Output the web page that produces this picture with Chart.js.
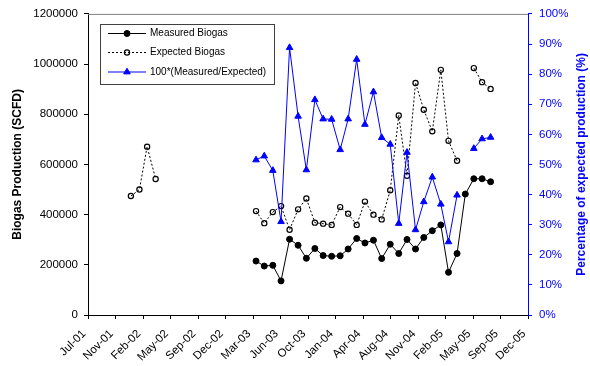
<!DOCTYPE html>
<html>
<head>
<meta charset="utf-8">
<script src="https://cdn.jsdelivr.net/npm/chart.js@4/dist/chart.umd.min.js"></script>
<style>
  html, body { margin: 0; padding: 0; background: #fff; }
  #wrap { width: 590px; height: 366px; }
</style>
</head>
<body>
<div id="wrap"><canvas id="c" width="590" height="366"></canvas></div>
<script>
// Date axis tick labels (one every 100 days)
const tickLabels = ['Jul-01', 'Nov-01', 'Feb-02', 'May-02', 'Sep-02', 'Dec-02', 'Mar-03', 'Jun-03',
  'Oct-03', 'Jan-04', 'Apr-04', 'Aug-04', 'Nov-04', 'Feb-05', 'May-05', 'Sep-05', 'Dec-05'];

// Early expected-only record (month-end values)
const earlyMonths = ['2001-12', '2002-01', '2002-02', '2002-03'];
const earlyExpected = [474000, 500000, 671000, 542000];

// Main monitoring record (month-end values)
const months = ['2003-03', '2003-04', '2003-05', '2003-06', '2003-07', '2003-08', '2003-09', '2003-10',
  '2003-11', '2003-12', '2004-01', '2004-02', '2004-03', '2004-04', '2004-05', '2004-06', '2004-07',
  '2004-08', '2004-09', '2004-10', '2004-11', '2004-12', '2005-01', '2005-02', '2005-03', '2005-04',
  '2005-05', '2005-06', '2005-07'];
const measured = [215000, 195000, 198000, 136000, 302000, 278000, 226000, 265000, 237000, 234000,
  236000, 263000, 305000, 287000, 298000, 225000, 282000, 245000, 301000, 263000, 309000, 336000,
  359000, 170000, 245000, 482000, 543000, 543000, 531000];
const expected = [414000, 366000, 410000, 434000, 340000, 421000, 464000, 368000, 364000, 359000,
  430000, 404000, 359000, 452000, 400000, 381000, 497000, 795000, 555000, 925000, 818000, 732000,
  977000, 694000, 615000, null, 984000, 928000, 901000];
const percentOfExpected = [51.5, 52.8, 48.0, 31.0, 88.8, 66.0, 48.2, 71.5, 65.1, 65.0, 54.9, 65.1,
  84.9, 63.3, 74.1, 58.9, 56.7, 30.4, 54.0, 28.3, 37.6, 45.8, 36.8, 24.3, 39.8, null, 55.3, 58.5, 59.0];

const FONT = "'Liberation Sans', Arial, Helvetica, sans-serif";
const BLUE = '#0000ff';
const DAY_MS = 86400000;

function monthEnd(s) {
  const [y, m] = s.split('-').map(Number);
  return Date.UTC(y, m, 0) / DAY_MS;
}
const axisStart = Date.UTC(2001, 6, 28) / DAY_MS;
const tickStep = 100;
const axisEnd = axisStart + tickStep * (tickLabels.length - 1);

const toPoints = (ms, vals) => ms.map((m, i) => ({ x: monthEnd(m), y: vals[i] }));
const measuredPts = toPoints(months, measured);
const expectedPts = toPoints(earlyMonths, earlyExpected)
  .concat([{ x: monthEnd(earlyMonths[earlyMonths.length - 1]) + 1, y: null }])
  .concat(toPoints(months, expected));
const percentPts = toPoints(months, percentOfExpected);

// Frame line along the top of the plot area
const framePlugin = {
  id: 'frame',
  beforeDatasetsDraw(chart) {
    const { ctx, chartArea: a } = chart;
    ctx.save();
    ctx.strokeStyle = '#808080';
    ctx.lineWidth = 1;
    ctx.beginPath();
    ctx.moveTo(a.left, a.top + 0.5);
    ctx.lineTo(a.right, a.top + 0.5);
    ctx.stroke();
    ctx.restore();
  }
};

// Vertical axis titles, both reading bottom-to-top
const axisTitlePlugin = {
  id: 'axisTitles',
  afterDraw(chart) {
    const { ctx, chartArea: a } = chart;
    const cy = (a.top + a.bottom) / 2;
    const draw = (text, x, color) => {
      ctx.save();
      ctx.translate(x, cy);
      ctx.rotate(-Math.PI / 2);
      ctx.font = 'bold 12px ' + FONT;
      ctx.fillStyle = color;
      ctx.textAlign = 'center';
      ctx.textBaseline = 'middle';
      ctx.fillText(text, 0, 0);
      ctx.restore();
    };
    draw('Biogas Production (SCFD)', 18, '#000');
    draw('Percentage of expected production (%)', 582, BLUE);
  }
};

// Boxed legend with line + marker samples
const boxLegendPlugin = {
  id: 'boxLegend',
  afterDraw(chart) {
    const { ctx } = chart;
    const bx = 100.5, by = 24.5, bw = 174, bh = 60;
    ctx.save();
    ctx.fillStyle = '#fff';
    ctx.fillRect(bx, by, bw, bh);
    ctx.strokeStyle = '#404040';
    ctx.lineWidth = 1;
    ctx.strokeRect(bx, by, bw, bh);
    const rows = [33.5, 52.5, 72];
    const mx = 127;
    chart.data.datasets.forEach((ds, i) => {
      const y = rows[i];
      ctx.save();
      ctx.strokeStyle = ds.borderColor;
      ctx.lineWidth = ds.borderWidth;
      ctx.setLineDash(ds.borderDash || []);
      ctx.beginPath();
      ctx.moveTo(108, y);
      ctx.lineTo(146, y);
      ctx.stroke();
      ctx.restore();

      ctx.save();
      ctx.fillStyle = ds.pointBackgroundColor;
      ctx.strokeStyle = ds.pointBorderColor;
      ctx.lineWidth = ds.pointBorderWidth;
      ctx.beginPath();
      if (ds.pointStyle === 'triangle') {
        const r = ds.pointRadius;
        const s = r * 3 / Math.sqrt(3);
        const h = s * Math.sqrt(3) / 2;
        ctx.moveTo(mx, y - 2 * h / 3);
        ctx.lineTo(mx + s / 2, y + h / 3);
        ctx.lineTo(mx - s / 2, y + h / 3);
        ctx.closePath();
      } else {
        ctx.arc(mx, y, ds.pointRadius, 0, Math.PI * 2);
      }
      ctx.fill();
      ctx.stroke();
      ctx.restore();

      ctx.fillStyle = '#000';
      ctx.font = '10px ' + FONT;
      ctx.textAlign = 'left';
      ctx.textBaseline = 'middle';
      ctx.fillText(ds.label, 150, y);
    });
    ctx.restore();
  }
};

new Chart(document.getElementById('c'), {
  type: 'line',
  data: {
    datasets: [
      {
        label: 'Measured Biogas',
        data: measuredPts,
        yAxisID: 'y',
        borderColor: '#000',
        borderWidth: 1,
        pointStyle: 'circle',
        pointRadius: 3,
        pointBackgroundColor: '#000',
        pointBorderColor: '#000',
        pointBorderWidth: 1,
        order: 2
      },
      {
        label: 'Expected Biogas',
        data: expectedPts,
        yAxisID: 'y',
        borderColor: '#000',
        borderWidth: 1,
        borderDash: [2, 2],
        pointStyle: 'circle',
        pointRadius: 2.6,
        pointBackgroundColor: 'rgba(0,0,0,0)',
        pointBorderColor: '#000',
        pointBorderWidth: 1.2,
        order: 3
      },
      {
        label: '100*(Measured/Expected)',
        data: percentPts,
        yAxisID: 'pct',
        borderColor: BLUE,
        borderWidth: 1,
        pointStyle: 'triangle',
        pointRadius: 3.8,
        pointBackgroundColor: BLUE,
        pointBorderColor: BLUE,
        pointBorderWidth: 1,
        order: 1
      }
    ]
  },
  options: {
    responsive: false,
    animation: false,
    devicePixelRatio: 1,
    spanGaps: false,
    layout: { padding: { top: 13, left: 0, right: 0, bottom: 0 } },
    plugins: {
      legend: { display: false },
      tooltip: { enabled: false }
    },
    elements: { line: { tension: 0 } },
    scales: {
      x: {
        type: 'linear',
        min: axisStart,
        max: axisEnd,
        afterBuildTicks(scale) {
          scale.ticks = tickLabels.map((_, i) => ({ value: axisStart + i * tickStep }));
        },
        afterFit(scale) { scale.height = 51; },
        ticks: {
          autoSkip: false,
          minRotation: 45,
          maxRotation: 45,
          padding: 8,
          labelOffset: -4,
          color: '#000',
          font: { family: FONT, size: 11.5 },
          callback: (v, i) => tickLabels[i]
        },
        grid: { display: true, drawOnChartArea: false, drawTicks: true, tickLength: 4, color: '#000' },
        border: { display: true, color: '#000', width: 1 }
      },
      y: {
        position: 'left',
        min: 0,
        max: 1200000,
        afterFit(scale) { scale.width = 88; },
        ticks: {
          stepSize: 200000,
          padding: 6,
          color: '#000',
          font: { family: FONT, size: 11.5 },
          callback: v => String(v)
        },
        grid: { display: true, drawOnChartArea: false, drawTicks: true, tickLength: 4, color: '#000' },
        border: { display: true, color: '#000', width: 1 }
      },
      pct: {
        position: 'right',
        min: 0,
        max: 100,
        afterFit(scale) { scale.width = 62; },
        ticks: {
          stepSize: 10,
          padding: 7,
          color: BLUE,
          font: { family: FONT, size: 11.5 },
          callback: v => v + '%'
        },
        grid: { display: true, drawOnChartArea: false, drawTicks: true, tickLength: 4, color: BLUE },
        border: { display: true, color: BLUE, width: 1 }
      }
    }
  },
  plugins: [framePlugin, axisTitlePlugin, boxLegendPlugin]
});
</script>
</body>
</html>
